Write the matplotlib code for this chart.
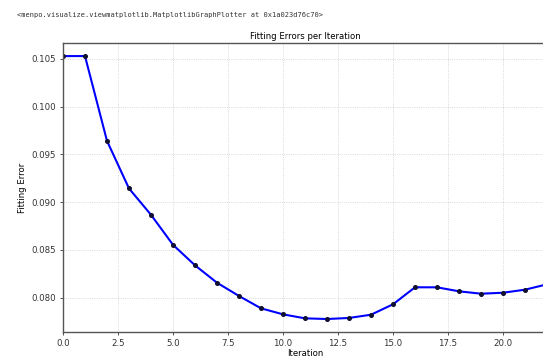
import matplotlib
matplotlib.use('Agg')
import matplotlib.pyplot as plt

# Fitting error per iteration
iterations = list(range(23))
errors = [0.1053, 0.1053, 0.09642, 0.09144, 0.08868, 0.08554, 0.08339,
          0.08157, 0.08018, 0.07889, 0.07826, 0.07784, 0.07777, 0.07788,
          0.07822, 0.07931, 0.08109, 0.08109, 0.08067, 0.08042, 0.08052,
          0.08084, 0.08140]

header = '<menpo.visualize.viewmatplotlib.MatplotlibGraphPlotter at 0x1a023d76c70>'

fig = plt.figure(figsize=(5.43, 3.59), dpi=100)
fig.text(17 / 543, 1 - 15 / 359, header, family='DejaVu Sans Mono',
         fontsize=5, va='center', ha='left', color='#333333')

# axes runs slightly past the right edge, as in the notebook screenshot
ax = fig.add_axes([63 / 543, 27 / 359, 484 / 543, 289 / 359])
ax.plot(iterations, errors, color='blue', lw=1.5, marker='o',
        markersize=2.6, markerfacecolor='#101030', markeredgecolor='#101030')

ax.set_xlim(0, 22)
ax.set_ylim(0.07641, 0.10667)
ax.set_xticks([0, 2.5, 5, 7.5, 10, 12.5, 15, 17.5, 20])
ax.set_yticks([0.080, 0.085, 0.090, 0.095, 0.100, 0.105])
ax.set_yticklabels([f'{v:.3f}' for v in ax.get_yticks()])
ax.grid(True, color='#cccccc', linestyle=':', linewidth=0.6)
ax.tick_params(labelsize=6.2, length=2.5, width=0.6, pad=2.5, colors='#333333')
for s in ax.spines.values():
    s.set_color('#555555')
    s.set_linewidth(1.0)

ax.set_title('Fitting Errors per Iteration', fontsize=6.1, pad=3)
ax.set_xlabel('Iteration', fontsize=6.1, labelpad=0.5)
ax.set_ylabel('Fitting Error', fontsize=6.1, labelpad=3)

fig.savefig('out.png', dpi=100)
